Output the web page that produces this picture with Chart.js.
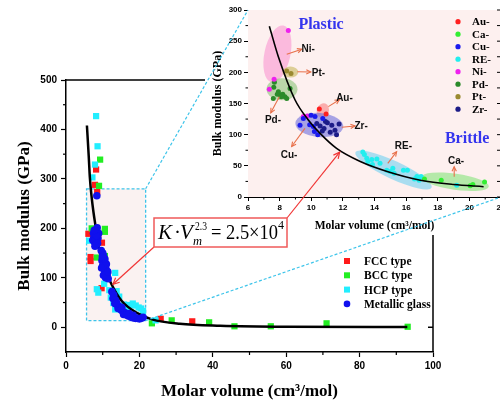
<!DOCTYPE html>
<html>
<head>
<meta charset="utf-8">
<script src="https://cdn.jsdelivr.net/npm/chart.js@4.4.1/dist/chart.umd.min.js"></script>
<style>
  html, body { margin: 0; padding: 0; background: #fff; overflow: hidden; }
  #wrap { position: relative; width: 500px; height: 405px; overflow: hidden; }
  #main { position: absolute; left: 0; top: 0; }
  #inset { position: absolute; left: 205px; top: 0; background: #fff; }
  #over { position: absolute; left: 0; top: 0; pointer-events: none; }
</style>
</head>
<body>
<div id="wrap">
  <canvas id="main" width="500" height="405"></canvas>
  <canvas id="inset" width="320" height="235"></canvas>
  <canvas id="over" width="500" height="405"></canvas>
</div>
<script>
// ---- main chart data (molar volume, bulk modulus) ----
const seriesNames = ["FCC type", "BCC type", "HCP type", "Metallic glass"];
const fccPoints = [[8.2,319],[7.9,288],[8.5,274],[6.1,189],[8.8,187],[9.8,171],[6.7,142],[6.7,134],[9.7,79],[25.8,17],[34.4,12]];
const bccPoints = [[9.3,339],[9.0,286],[10.6,199],[7.0,200],[10.6,193],[8.4,141],[10.6,144],[23.4,8],[28.8,14],[39.0,10],[45.9,2],[55.8,2],[71.0,8],[93.1,1]];
const hcpPoints = [[8.2,427],[8.6,366],[7.9,329],[7.2,303],[6.3,175],[13.4,110],[10.4,88],[8.8,70],[8.4,77],[12.9,49],[13.4,36],[13.8,73],[14.5,62],
  [17.4,45],[18.2,48],[19.0,44],[19.8,40],[20.5,38],[21.0,33],[16.5,40],[15.8,46],[24.4,14],[11.8,75],[12.2,60]];
const glassPoints = [[8.4,266],[8.5,201],[8.2,195],[8.0,188],[7.6,182],[7.3,176],[7.8,172],[8.3,168],[8.7,180],[8.0,178],[7.5,190],[8.9,190],[8.6,170],[7.9,164],[8.3,185],[7.7,196],
  [9.6,155],[10.0,150],[10.3,140],[9.8,135],[10.5,130],[10.0,125],[10.8,122],[10.4,118],[11.0,115],[10.6,110],[11.2,105],[10.8,100],[11.5,98],[10.2,105],[11.0,128],[9.7,120],[10.2,145],[11.4,112],[10.6,138],[9.9,142],
  [12.5,72],[13.0,65],[12.8,58],[13.5,55],[13.3,48],[14.0,45],[14.5,42],[14.2,38],[15.0,35],[15.5,32],[16.0,30],[15.7,26],[16.5,25],[17.0,23],[17.5,22],
  [18.0,20],[18.5,19],[19.0,18],[19.5,18],[20.0,17],[20.5,18],[21.0,20],[17.2,28],[18.3,24],[13.8,50],[15.2,40]];
const fitCurveMain = [[5.7,408],[6.2,345],[6.5,303],[7.0,262],[7.5,232],[8.1,202],[8.8,165],[9.6,140],[10.6,118],[12.4,87],[15.2,53],[19.3,29],[23.4,16],[31,7],[42,3],[60,1],[93,0.5]];
const mainXTicks = [0, 20, 40, 60, 80, 100];
const mainXMinor = [10, 30, 50, 70, 90];
const mainYTicks = [0, 100, 200, 300, 400, 500];
const mainYMinor = [50, 150, 250, 350, 450];
const zoomBox = [[5.6, 280], [21.7, 13.6]]; // region shown in the inset

// ---- inset data (alloy families of metallic glasses) ----
const insetNames = ["Au-", "Ca-", "Cu-", "RE-", "Ni-", "Pd-", "Pt-", "Zr-"];
const auPoints = [[10.51,141],[10.94,133]];
const caPoints = [[17.16,29],[18.22,27],[20.05,18],[20.22,20],[20.96,24]];
const cuPoints = [[9.29,115],[9.5,126],[9.99,131],[10.24,129],[10.13,113],[10.2,105],[10.41,100],[10.73,126],[9.9,116]];
const rePoints = [[13.26,72],[13.36,68],[13.51,62],[13.58,57],[13.83,60],[14.15,61],[13.87,52],[14.35,54],[14.78,43],[15.16,46],[15.24,38],[14.99,41],
  [15.83,43],[16.08,43],[16.68,33],[16.82,27],[16.53,29],[16.95,33],[19.2,19]];
const niPoints = [[8.55,267],[7.65,189],[7.35,173],[9.5,129],[9.75,130]];
const pdPoints = [[7.67,184],[7.63,176],[7.92,169],[8.03,164],[8.2,165],[8.34,161],[8.45,158],[8.1,161],[8.66,174],[7.85,165],[7.6,158]];
const ptPoints = [[8.45,202],[8.72,198]];
const zrPoints = [[10.35,118],[10.56,114],[10.81,110],[11.02,119],[11.3,115],[11.5,107],[11.76,117],[11.6,100],[10.7,106],[10.9,121],[11.2,104]];
const fitCurveInset = [[7.35,274],[7.92,225],[8.97,156],[9.8,124],[10.56,102],[11.6,78],[13.1,57],[14.8,41],[16.9,27],[19,20],[20.9,16.5]];
const insetXTicks = [6, 8, 10, 12, 14, 16, 18, 20, 22];
const insetXMinor = [7, 9, 11, 13, 15, 17, 19, 21];
const insetYTicks = [0, 50, 100, 150, 200, 250, 300];
const insetYMinor = [25, 75, 125, 175, 225, 275];

// label tags with arrows inside the inset (data coordinates)
const tagText = ["Ni-", "Pt-", "Pd-", "Au-", "Zr-", "Cu-", "RE-", "Ca-"];
const tagAt = [[9.8,237],[10.46,199],[7.58,123],[12.1,159],[13.15,113],[8.6,67],[15.83,81],[19.16,58]];
const tagArrows = [[[8.45,229],[9.4,237]],[[9.12,201],[9.97,200.5]],[[7.98,161],[7.44,135]],[[11.08,145],[11.78,156]],
  [[11.93,112],[12.77,114]],[[9.6,110],[8.76,81]],[[14.84,54],[15.4,72.7]],[[19.04,32.6],[19.04,48.6]]];

const pts = arr => arr.map(p => ({x: p[0], y: p[1]}));
const black = "#000";

// draws short minor tick marks outside the axes
const minorTicks = {
  id: "minorTicks",
  afterDraw(chart, args, o) {
    const ctx = chart.ctx, xs = chart.scales.x, ys = chart.scales.y;
    ctx.save();
    ctx.strokeStyle = black; ctx.lineWidth = o.lw;
    o.x.forEach(v => { const p = xs.getPixelForValue(v); ctx.beginPath(); ctx.moveTo(p, xs.top); ctx.lineTo(p, xs.top + o.len); ctx.stroke(); });
    o.y.forEach(v => { const p = ys.getPixelForValue(v); ctx.beginPath(); ctx.moveTo(ys.right, p); ctx.lineTo(ys.right - o.len, p); ctx.stroke(); });
    ctx.restore();
  }
};

// ---------- main chart ----------
const mainDecor = {
  id: "mainDecor",
  beforeDatasetsDraw(chart) {
    const ctx = chart.ctx, xs = chart.scales.x, ys = chart.scales.y;
    const x1 = xs.getPixelForValue(zoomBox[0][0]), y1 = ys.getPixelForValue(zoomBox[0][1]);
    const x2 = xs.getPixelForValue(zoomBox[1][0]), y2 = ys.getPixelForValue(zoomBox[1][1]);
    ctx.save();
    ctx.fillStyle = "#faf2f1";
    ctx.fillRect(x1, y1, x2 - x1, y2 - y1);
    ctx.strokeStyle = "#3cc4ea"; ctx.lineWidth = 1.3; ctx.setLineDash([3, 2]);
    ctx.strokeRect(x1, y1, x2 - x1, y2 - y1);
    ctx.restore();
  },
  afterDraw(chart) {
    const ctx = chart.ctx, a = chart.chartArea;
    ctx.save();
    ctx.strokeStyle = black; ctx.lineWidth = 1.5;
    ctx.beginPath(); ctx.moveTo(a.left, a.top); ctx.lineTo(a.right, a.top); ctx.lineTo(a.right, a.bottom); ctx.stroke();
    // right-side tick at zero
    const y0 = chart.scales.y.getPixelForValue(0);
    ctx.beginPath(); ctx.moveTo(a.right, y0); ctx.lineTo(a.right - 5, y0); ctx.stroke();
    // legend
    const colors = ["#ff1a1a", "#22ee22", "#22eeff", "#1010ee"];
    ctx.font = "bold 11.5px 'Liberation Serif'";
    ctx.textBaseline = "middle";
    seriesNames.forEach((n, i) => {
      const y = 261 + i * 14.3;
      ctx.fillStyle = colors[i];
      if (i < 3) ctx.fillRect(344, y - 3, 6, 6);
      else { ctx.beginPath(); ctx.arc(347, y, 3.3, 0, Math.PI * 2); ctx.fill(); }
      ctx.fillStyle = black;
      ctx.fillText(n, 364, y + 1);
    });
    ctx.restore();
  }
};

const tickFont = {family: "'Liberation Sans', Arial", weight: "bold", size: 10};

const mainChart = new Chart(document.getElementById("main"), {
  type: "scatter",
  data: {
    datasets: [
      {label: seriesNames[3], data: pts(glassPoints), pointStyle: "circle", pointRadius: 3.8, backgroundColor: "#1010ee", borderWidth: 0},
      {label: "fit", type: "line", data: pts(fitCurveMain), borderColor: black, borderWidth: 2.5, pointRadius: 0, cubicInterpolationMode: "monotone", fill: false},
      {label: seriesNames[2], data: pts(hcpPoints), pointStyle: "rect", pointRadius: 4.4, backgroundColor: "#22eeff", borderWidth: 0},
      {label: seriesNames[1], data: pts(bccPoints), pointStyle: "rect", pointRadius: 4.4, backgroundColor: "#22ee22", borderWidth: 0},
      {label: seriesNames[0], data: pts(fccPoints), pointStyle: "rect", pointRadius: 4.4, backgroundColor: "#ff1a1a", borderWidth: 0}
    ]
  },
  options: {
    responsive: false,
    animation: false,
    layout: {padding: {left: 0, top: 80, right: 67, bottom: 0}},
    plugins: {legend: {display: false}, tooltip: {enabled: false},
      minorTicks: {x: mainXMinor, y: mainYMinor, len: 3, lw: 1.2}},
    scales: {
      x: {
        type: "linear", min: 0, max: 100,
        afterBuildTicks: s => { s.ticks = mainXTicks.map(v => ({value: v})); },
        afterFit: s => { s.height = 53; },
        grid: {drawOnChartArea: false, tickLength: 5, tickColor: black, tickWidth: 1.2},
        border: {color: black, width: 1.5},
        ticks: {font: tickFont, color: black, padding: 3, maxRotation: 0},
        title: {display: true, text: "Molar volume (cm³/mol)", color: black,
          font: {family: "'Liberation Serif'", weight: "bold", size: 17}, padding: {top: 0, bottom: 3}}
      },
      y: {
        type: "linear", min: -50, max: 500,
        afterBuildTicks: s => { s.ticks = mainYTicks.map(v => ({value: v})); },
        afterFit: s => { s.width = 66; },
        grid: {drawOnChartArea: false, tickLength: 5, tickColor: black, tickWidth: 1.2},
        border: {color: black, width: 1.5},
        ticks: {font: tickFont, color: black, padding: 4},
        title: {display: true, text: "Bulk modulus (GPa)", color: black,
          font: {family: "'Liberation Serif'", weight: "bold", size: 17}, padding: {top: 14, bottom: 0}}
      }
    }
  },
  plugins: [mainDecor, minorTicks]
});

// ---------- inset chart ----------
// shaded groups: centre in data units, radii in px, tilt in degrees
const groupShades = [
  {c: [7.86,229.5], rx: 13, ry: 29, a: 12, col: "rgba(250,168,215,0.75)"},
  {c: [8.15,173], rx: 15.5, ry: 11, a: 0, col: "rgba(150,200,130,0.65)"},
  {c: [8.68,200.5], rx: 8, ry: 5.5, a: 0, col: "rgba(210,195,120,0.75)"},
  {c: [10.73,138.5], rx: 6, ry: 7.5, a: 20, col: "rgba(250,150,150,0.75)"},
  {c: [10.51,115.5], rx: 24, ry: 12, a: 5, col: "rgba(110,110,220,0.6)"},
  {c: [15.2,43.3], rx: 42, ry: 9, a: 25, col: "rgba(140,215,240,0.75)"},
  {c: [19.1,24.5], rx: 34, ry: 8, a: 8, col: "rgba(150,230,140,0.7)"}
];
const insetColors = ["#ff2020", "#33ee33", "#1a1aee", "#22eeee", "#ee22ee", "#2a8a2a", "#9a8a30", "#1c1c88"];

function arrow(ctx, x1, y1, x2, y2, head) {
  const ang = Math.atan2(y2 - y1, x2 - x1);
  ctx.beginPath(); ctx.moveTo(x1, y1); ctx.lineTo(x2, y2); ctx.stroke();
  ctx.beginPath();
  ctx.moveTo(x2 - head * Math.cos(ang - 0.45), y2 - head * Math.sin(ang - 0.45));
  ctx.lineTo(x2, y2);
  ctx.lineTo(x2 - head * Math.cos(ang + 0.45), y2 - head * Math.sin(ang + 0.45));
  ctx.stroke();
}

const insetDecor = {
  id: "insetDecor",
  beforeDatasetsDraw(chart) {
    const ctx = chart.ctx, a = chart.chartArea, xs = chart.scales.x, ys = chart.scales.y;
    ctx.save();
    ctx.fillStyle = "#fdf0ef";
    ctx.fillRect(a.left, a.top, a.right - a.left, a.bottom - a.top);
    groupShades.forEach(g => {
      ctx.fillStyle = g.col;
      ctx.beginPath();
      ctx.ellipse(xs.getPixelForValue(g.c[0]), ys.getPixelForValue(g.c[1]), g.rx, g.ry, g.a * Math.PI / 180, 0, Math.PI * 2);
      ctx.fill();
    });
    ctx.restore();
  },
  afterDraw(chart) {
    const ctx = chart.ctx, xs = chart.scales.x, ys = chart.scales.y;
    ctx.save();
    ctx.strokeStyle = "#e8704a"; ctx.lineWidth = 1.1;
    tagArrows.forEach(t => arrow(ctx, xs.getPixelForValue(t[0][0]), ys.getPixelForValue(t[0][1]),
      xs.getPixelForValue(t[1][0]), ys.getPixelForValue(t[1][1]), 5));
    ctx.fillStyle = "#111"; ctx.font = "bold 10px 'Liberation Sans'";
    ctx.textAlign = "center"; ctx.textBaseline = "middle";
    tagText.forEach((t, i) => ctx.fillText(t, xs.getPixelForValue(tagAt[i][0]), ys.getPixelForValue(tagAt[i][1])));
    ctx.fillStyle = "#3434ee"; ctx.font = "bold 16px 'Liberation Serif'";
    ctx.fillText("Plastic", xs.getPixelForValue(10.62), ys.getPixelForValue(276));
    ctx.fillText("Brittle", xs.getPixelForValue(19.86), ys.getPixelForValue(92.5));
    // legend
    ctx.textAlign = "left"; ctx.font = "bold 11px 'Liberation Serif'";
    insetNames.forEach((n, i) => {
      const y = 21.7 + i * 12.5;
      ctx.fillStyle = insetColors[i];
      ctx.beginPath(); ctx.arc(253, y, 2.6, 0, Math.PI * 2); ctx.fill();
      ctx.fillStyle = black;
      ctx.fillText(n, 267, y + 0.5);
    });
    // right-side ticks
    ctx.strokeStyle = black; ctx.lineWidth = 1;
    insetYTicks.concat(insetYMinor).forEach(v => {
      const p = ys.getPixelForValue(v);
      ctx.beginPath(); ctx.moveTo(chart.chartArea.right, p); ctx.lineTo(chart.chartArea.right - 4, p); ctx.stroke();
    });
    ctx.restore();
  }
};

const insetTick = {family: "'Liberation Sans', Arial", weight: "bold", size: 8};
const groupSets = [auPoints, caPoints, cuPoints, rePoints, niPoints, pdPoints, ptPoints, zrPoints];

const insetChart = new Chart(document.getElementById("inset"), {
  type: "scatter",
  data: {
    datasets: [
      {label: "fit", type: "line", data: pts(fitCurveInset), borderColor: black, borderWidth: 1.6, pointRadius: 0, cubicInterpolationMode: "monotone", fill: false}
    ].concat(groupSets.map((g, i) => ({label: insetNames[i], data: pts(g), pointRadius: 2.5, backgroundColor: insetColors[i], borderWidth: 0})))
  },
  options: {
    responsive: false,
    animation: false,
    layout: {padding: {left: 0, top: 10, right: 24, bottom: 0}},
    plugins: {legend: {display: false}, tooltip: {enabled: false},
      minorTicks: {x: insetXMinor, y: insetYMinor, len: 2.5, lw: 1}},
    scales: {
      x: {
        type: "linear", min: 6, max: 22,
        afterBuildTicks: s => { s.ticks = insetXTicks.map(v => ({value: v})); },
        afterFit: s => { s.height = 38; },
        grid: {drawOnChartArea: false, tickLength: 4, tickColor: black},
        border: {color: black, width: 1},
        ticks: {font: insetTick, color: black, padding: 2, maxRotation: 0},
        title: {display: true, text: "Molar volume (cm³/mol)", color: black,
          font: {family: "'Liberation Serif'", weight: "bold", size: 11.5}, padding: {top: 0, bottom: 2}}
      },
      y: {
        type: "linear", min: 0, max: 300,
        afterBuildTicks: s => { s.ticks = insetYTicks.map(v => ({value: v})); },
        afterFit: s => { s.width = 43; },
        grid: {drawOnChartArea: false, tickLength: 4, tickColor: black},
        border: {color: black, width: 1},
        ticks: {font: insetTick, color: black, padding: 2},
        title: {display: true, text: "Bulk modulus (GPa)", color: black,
          font: {family: "'Liberation Serif'", weight: "bold", size: 12}, padding: {top: 6, bottom: 0}}
      }
    }
  },
  plugins: [insetDecor, minorTicks]
});

// ---------- overlay: zoom connectors, formula box and its arrows ----------
(function () {
  const ctx = document.getElementById("over").getContext("2d");
  const mx = mainChart.scales.x, my = mainChart.scales.y;
  const ix = insetChart.scales.x, iy = insetChart.scales.y, ia = insetChart.chartArea;
  const offX = 205;
  ctx.strokeStyle = "#3cc4ea"; ctx.lineWidth = 1.2; ctx.setLineDash([3, 2]);
  ctx.beginPath();
  ctx.moveTo(mx.getPixelForValue(zoomBox[1][0]), my.getPixelForValue(zoomBox[0][1]));
  ctx.lineTo(offX + ia.left, ia.top);
  ctx.moveTo(mx.getPixelForValue(zoomBox[1][0]), my.getPixelForValue(zoomBox[1][1]));
  ctx.lineTo(offX + ia.right, ia.bottom);
  ctx.stroke();
  ctx.setLineDash([]);

  const bx = 154, by = 218, bw = 133, bh = 29;
  ctx.strokeStyle = "#f03535"; ctx.lineWidth = 1.2;
  arrow(ctx, bx, by + bh, mx.getPixelForValue(12.8), my.getPixelForValue(87), 7);
  arrow(ctx, bx + bw, by, offX + ix.getPixelForValue(11.8), iy.getPixelForValue(72), 7);

  ctx.fillStyle = "#fff";
  ctx.fillRect(bx, by, bw, bh);
  ctx.strokeStyle = "#ef5a5a"; ctx.lineWidth = 1.5;
  ctx.strokeRect(bx, by, bw, bh);

  ctx.fillStyle = black; ctx.textBaseline = "alphabetic";
  const base = by + 21;
  ctx.font = "italic 21px 'Liberation Serif'";
  ctx.fillText("K", bx + 4, base, 14);
  ctx.font = "21px 'Liberation Serif'";
  ctx.fillText("·", bx + 20, base);
  ctx.font = "italic 21px 'Liberation Serif'";
  ctx.fillText("V", bx + 26, base, 14);
  ctx.font = "12px 'Liberation Serif'";
  ctx.fillText("2.3", bx + 41, base - 9, 12);
  ctx.font = "italic 13px 'Liberation Serif'";
  ctx.fillText("m", bx + 39, base + 6, 9);
  ctx.font = "21px 'Liberation Serif'";
  ctx.fillText("= 2.5×10", bx + 57, base, 67);
  ctx.font = "12px 'Liberation Serif'";
  ctx.fillText("4", bx + 124, base - 10);
})();
</script>
</body>
</html>
